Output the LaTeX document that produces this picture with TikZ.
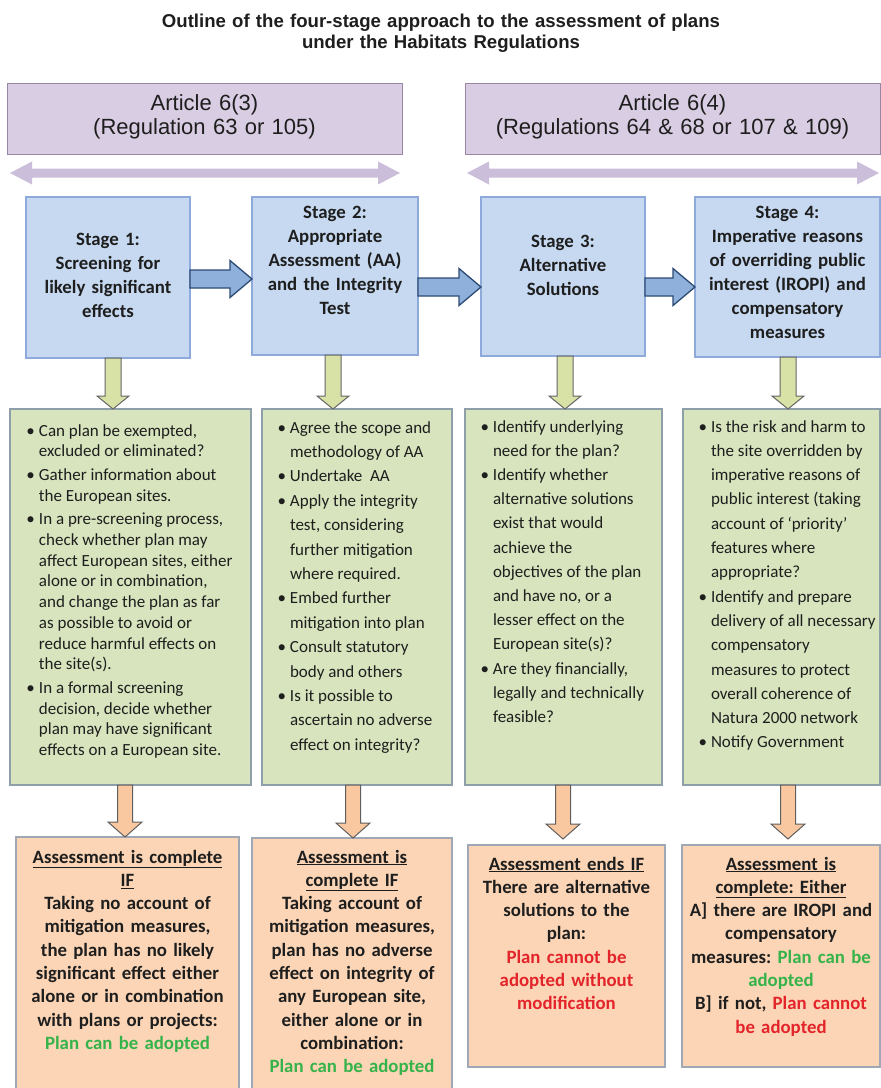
\documentclass[tikz,border=0pt]{standalone}
\usepackage{fontspec}
\setmainfont{Carlito}
\newfontfamily\arialf{Liberation Sans}
\usetikzlibrary{calc}
\definecolor{purpfill}{HTML}{D8CDE2}
\definecolor{purpline}{HTML}{9787A5}
\definecolor{purparrow}{HTML}{CBBEDA}
\definecolor{bluefill}{HTML}{C6D9F1}
\definecolor{blueline}{HTML}{8EAADB}
\definecolor{bluearrfill}{HTML}{8FB0DA}
\definecolor{bluearrline}{HTML}{2C4A74}
\definecolor{greenfill}{HTML}{D7E4BD}
\definecolor{greenline}{HTML}{8E9FAA}
\definecolor{garrfill}{HTML}{D8E1A6}
\definecolor{garrline}{HTML}{666666}
\definecolor{orangefill}{HTML}{FBD5B5}
\definecolor{orangeline}{HTML}{A0A8B5}
\definecolor{oarrfill}{HTML}{F9C8A0}
\definecolor{oarrline}{HTML}{5F5F5F}
\definecolor{okgreen}{HTML}{35B34A}
\definecolor{nored}{HTML}{E3242B}
\definecolor{txt}{HTML}{1E1E1E}
\frenchspacing
\newcommand{\bul}{\makebox[12.5pt][l]{\textbullet}}
% horizontal block arrow: style, tail coord, tip coord, shaft half, head half, head length
\newcommand{\hblockarrow}[6]{\path[#1] ($(#2)+(0,-#4)$) -- ($(#3)+(-#6,-#4)$) -- ($(#3)+(-#6,-#5)$) -- (#3) -- ($(#3)+(-#6,#5)$) -- ($(#3)+(-#6,#4)$) -- ($(#2)+(0,#4)$) -- cycle;}
% vertical (downward) block arrow
\newcommand{\vblockarrow}[6]{\path[#1] ($(#2)+(-#4,0)$) -- ($(#3)+(-#4,-#6)$) -- ($(#3)+(-#5,-#6)$) -- (#3) -- ($(#3)+(#5,-#6)$) -- ($(#3)+(#4,-#6)$) -- ($(#2)+(#4,0)$) -- cycle;}
% horizontal double-headed block arrow
\newcommand{\hdoublearrow}[6]{\path[#1] (#2) -- ($(#2)+(#6,-#5)$) -- ($(#2)+(#6,-#4)$) -- ($(#3)+(-#6,-#4)$) -- ($(#3)+(-#6,-#5)$) -- (#3) -- ($(#3)+(-#6,#5)$) -- ($(#3)+(-#6,#4)$) -- ($(#2)+(#6,#4)$) -- ($(#2)+(#6,#5)$) -- cycle;}
\begin{document}
\begin{tikzpicture}[x=1pt,y=-1pt,
  every node/.style={inner sep=0pt, outer sep=0pt, text=txt},
  pbox/.style={draw=purpline, fill=purpfill, line width=1pt},
  sbox/.style={draw=blueline, fill=bluefill, line width=1.2pt},
  gbox/.style={draw=greenline, fill=greenfill, line width=1.5pt},
  obox/.style={draw=orangeline, fill=orangefill, line width=1.5pt},
  titletext/.style={font=\arialf\bfseries\fontsize{18.6}{21}\selectfont, text width=760pt, align=center, anchor=base},
  arttext/.style={font=\arialf\fontsize{22}{24}\selectfont, text width=400pt, align=center, anchor=base},
  stagetext/.style={font=\bfseries\fontsize{18.8}{24}\selectfont, text width=200pt, align=center, anchor=base},
  listtext/.style={anchor=base west},
  restext/.style={font=\bfseries\fontsize{18.8}{23.3}\selectfont, text width=240pt, align=center, anchor=base},
  purplearrow/.style={fill=purparrow},
  bluearrow/.style={fill=bluearrfill, draw=bluearrline, line width=1.3pt, line join=miter},
  greenarrow/.style={fill=garrfill, draw=garrline, line width=1pt, line join=miter},
  orangearrow/.style={fill=oarrfill, draw=oarrline, line width=1pt, line join=miter}
]
\useasboundingbox[fill=white] (0,0) rectangle (881,1088);

% title
\node[titletext] (title) at (441,27) {Outline of the four-stage approach to the assessment of plans\\under the Habitats Regulations};

% article boxes
\node[pbox, minimum width=395pt, minimum height=71pt] (p1) at (204.5,118.5) {};
\node[pbox, minimum width=415pt, minimum height=71pt] (p2) at (672.5,118.5) {};
\node[arttext] (p1t) at (204.5,110) {Article 6(3)\\(Regulation 63 or 105)};
\node[arttext] (p2t) at (672.5,110) {Article 6(4)\\(Regulations 64 \& 68 or 107 \& 109)};

% double arrows
\coordinate (d1l) at (10,173);
\coordinate (d1r) at (400,173);
\coordinate (d2l) at (467,173);
\coordinate (d2r) at (879,173);
\hdoublearrow{purplearrow}{d1l}{d1r}{4.5}{11.5}{22}
\hdoublearrow{purplearrow}{d2l}{d2r}{4.5}{11.5}{22}

% stage boxes
\node[sbox, minimum width=164pt, minimum height=161pt] (s1) at (108,277.5) {};
\node[sbox, minimum width=166pt, minimum height=158pt] (s2) at (335,276) {};
\node[sbox, minimum width=164pt, minimum height=159pt] (s3) at (563,276.5) {};
\node[sbox, minimum width=185pt, minimum height=160pt] (s4) at (787.5,277) {};
\node[stagetext] (s1t) at (108,245) {Stage 1:\\Screening for\\likely significant\\effects};
\node[stagetext] (s2t) at (335,218) {Stage 2:\\Appropriate\\Assessment (AA)\\and the Integrity\\Test};
\node[stagetext] (s3t) at (563,247) {Stage 3:\\Alternative\\Solutions};
\node[stagetext] (s4t) at (787.5,218) {Stage 4:\\Imperative reasons\\of overriding public\\interest (IROPI) and\\compensatory\\measures};

% blue arrows between stages
\coordinate (b1s) at (s1.east |- 0,279);
\coordinate (b1e) at (s2.west |- 0,279);
\coordinate (b2s) at (s2.east |- 0,287);
\coordinate (b2e) at (s3.west |- 0,287);
\coordinate (b3s) at (s3.east |- 0,287);
\coordinate (b3e) at (s4.west |- 0,287);
\hblockarrow{bluearrow}{b1s}{b1e}{9}{18.5}{22}
\hblockarrow{bluearrow}{b2s}{b2e}{9}{18.5}{22}
\hblockarrow{bluearrow}{b3s}{b3e}{9}{18.5}{22}

% green boxes
\node[gbox, minimum width=241pt, minimum height=376pt] (g1) at (130.5,597) {};
\node[gbox, minimum width=190pt, minimum height=376pt] (g2) at (357,597) {};
\node[gbox, minimum width=197pt, minimum height=376pt] (g3) at (563.5,597) {};
\node[gbox, minimum width=197pt, minimum height=376pt] (g4) at (781.5,597) {};

% green arrows
\coordinate (ga1s) at (113,0 |- s1.south);
\coordinate (ga1e) at (113,0 |- g1.north);
\coordinate (ga2s) at (333,0 |- s2.south);
\coordinate (ga2e) at (333,0 |- g2.north);
\coordinate (ga3s) at (565,0 |- s3.south);
\coordinate (ga3e) at (565,0 |- g3.north);
\coordinate (ga4s) at (788,0 |- s4.south);
\coordinate (ga4e) at (788,0 |- g4.north);
\vblockarrow{greenarrow}{ga1s}{ga1e}{8}{16}{13}
\vblockarrow{greenarrow}{ga2s}{ga2e}{8}{16}{13}
\vblockarrow{greenarrow}{ga3s}{ga3e}{8}{16}{13}
\vblockarrow{greenarrow}{ga4s}{ga4e}{8}{16}{13}

% list texts
\node[listtext] (g1t) at (26.5,436) {\fontsize{17}{20.7}\selectfont
\begin{tabular}[t]{@{}l@{}l@{}}
\bul & Can plan be exempted,\\
 & excluded or eliminated?\\[3pt]
\bul & Gather information about\\
 & the European sites.\\[3pt]
\bul & In a pre-screening process,\\
 & check whether plan may\\
 & affect European sites, either\\
 & alone or in combination,\\
 & and change the plan as far\\
 & as possible to avoid or\\
 & reduce harmful effects on\\
 & the site(s).\\[3pt]
\bul & In a formal screening\\
 & decision, decide whether\\
 & plan may have significant\\
 & effects on a European site.
\end{tabular}};
\node[listtext] (g2t) at (277.5,433) {\fontsize{17}{24.4}\selectfont
\begin{tabular}[t]{@{}l@{}l@{}}
\bul & Agree the scope and\\
 & methodology of AA\\
\bul & Undertake\ \ AA\\
\bul & Apply the integrity\\
 & test, considering\\
 & further mitigation\\
 & where required.\\
\bul & Embed further\\
 & mitigation into plan\\
\bul & Consult statutory\\
 & body and others\\
\bul & Is it possible to\\
 & ascertain no adverse\\
 & effect on integrity?
\end{tabular}};
\node[listtext] (g3t) at (480.5,432) {\fontsize{17}{24.2}\selectfont
\begin{tabular}[t]{@{}l@{}l@{}}
\bul & Identify underlying\\
 & need for the plan?\\
\bul & Identify whether\\
 & alternative solutions\\
 & exist that would\\
 & achieve the\\
 & objectives of the plan\\
 & and have no, or a\\
 & lesser effect on the\\
 & European site(s)?\\
\bul & Are they financially,\\
 & legally and technically\\
 & feasible?
\end{tabular}};
\node[listtext] (g4t) at (698.5,432) {\fontsize{17}{24.3}\selectfont
\begin{tabular}[t]{@{}l@{}l@{}}
\bul & Is the risk and harm to\\
 & the site overridden by\\
 & imperative reasons of\\
 & public interest (taking\\
 & account of ‘priority’\\
 & features where\\
 & appropriate?\\
\bul & Identify and prepare\\
 & delivery of all necessary\\
 & compensatory\\
 & measures to protect\\
 & overall coherence of\\
 & Natura 2000 network\\
\bul & Notify Government
\end{tabular}};

% result boxes
\node[obox, minimum width=223pt, minimum height=256pt] (o1) at (127.5,965) {};
\node[obox, minimum width=200pt, minimum height=255pt] (o2) at (352,965.5) {};
\node[obox, minimum width=197pt, minimum height=222pt] (o3) at (566.5,956) {};
\node[obox, minimum width=198pt, minimum height=222pt] (o4) at (781,956) {};

% orange arrows
\coordinate (oa1s) at (125,0 |- g1.south);
\coordinate (oa1e) at (125,0 |- o1.north);
\coordinate (oa2s) at (353,0 |- g2.south);
\coordinate (oa2e) at (353,0 |- o2.north);
\coordinate (oa3s) at (563,0 |- g3.south);
\coordinate (oa3e) at (563,839);
\coordinate (oa4s) at (788,0 |- g4.south);
\coordinate (oa4e) at (788,839);
\vblockarrow{orangearrow}{oa1s}{oa1e}{7.5}{17}{15}
\vblockarrow{orangearrow}{oa2s}{oa2e}{7.5}{17}{15}
\vblockarrow{orangearrow}{oa3s}{oa3e}{7.5}{17}{15}
\vblockarrow{orangearrow}{oa4s}{oa4e}{7.5}{17}{15}

% result texts
\node[restext] (o1t) at (127.5,863) {\underline{Assessment is complete}\\\underline{IF}\\Taking no account of\\mitigation measures,\\the plan has no likely\\significant effect either\\alone or in combination\\with plans or projects:\\\textcolor{okgreen}{Plan can be adopted}};
\node[restext] (o2t) at (352,863) {\underline{Assessment is}\\\underline{complete IF}\\Taking account of\\mitigation measures,\\plan has no adverse\\effect on integrity of\\any European site,\\either alone or in\\combination:\\\textcolor{okgreen}{Plan can be adopted}};
\node[restext] (o3t) at (566.5,870) {\underline{Assessment ends IF}\\There are alternative\\solutions to the\\plan:\\\textcolor{nored}{Plan cannot be}\\\textcolor{nored}{adopted without}\\\textcolor{nored}{modification}};
\node[restext] (o4t) at (781,870) {\underline{Assessment is}\\\underline{complete: Either}\\A] there are IROPI and\\compensatory\\measures: \textcolor{okgreen}{Plan can be}\\\textcolor{okgreen}{adopted}\\B] if not, \textcolor{nored}{Plan cannot}\\\textcolor{nored}{be adopted}};
\end{tikzpicture}
\end{document}
